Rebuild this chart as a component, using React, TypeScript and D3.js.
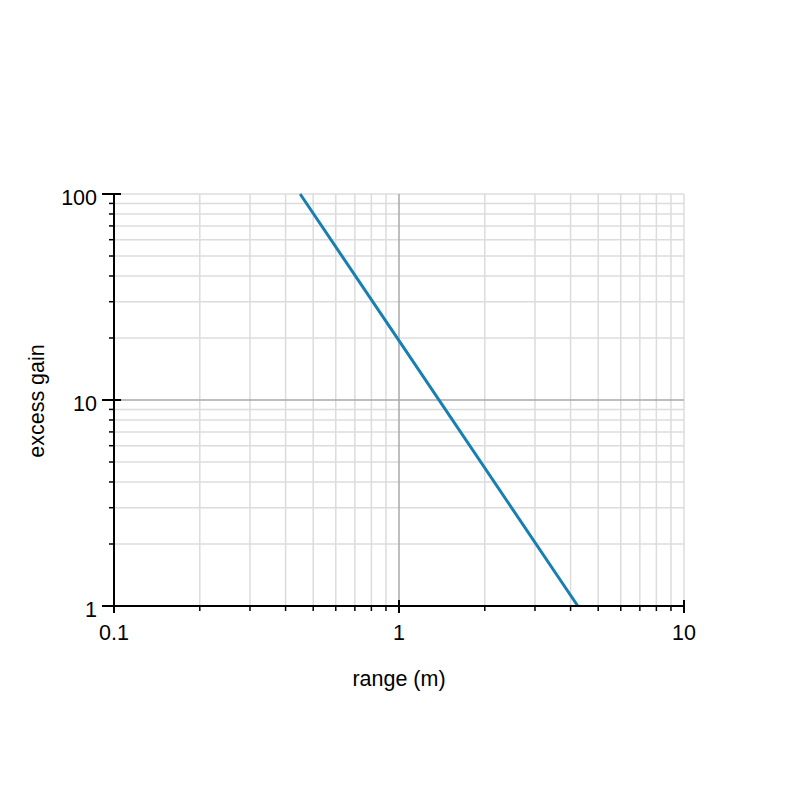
import React from "react";
import * as d3 from "d3";

const seriesX = [0.45, 1, 4.24];
const seriesY = [100, 19.4, 1];
const xTickValues = [0.1, 1, 10];
const xTickLabels = ["0.1", "1", "10"];
const yTickValues = [1, 10, 100];
const yTickLabels = ["1", "10", "100"];
const xLabel = "range (m)";
const yLabel = "excess gain";

const minorTicks = (lo: number, hi: number) => {
  const out: number[] = [];
  for (let d = lo; d < hi; d *= 10) {
    for (let k = 2; k <= 9; k++) out.push(d * k);
  }
  return out;
};

export default function App() {
  const W = 800, H = 800;
  const left = 114, right = 684, top = 194, bottom = 606;
  const x = d3.scaleLog().domain([0.1, 10]).range([left, right]);
  const y = d3.scaleLog().domain([1, 100]).range([bottom, top]);
  const xMinor = minorTicks(0.1, 10);
  const yMinor = minorTicks(1, 100);
  const line = d3.line<number>().x((_, i) => x(seriesX[i])).y((d) => y(d));
  const font = "'Liberation Sans', Arial, Helvetica, sans-serif";
  const fs = 21.5;
  const light = "#dcdcdc";
  const dark = "#a8a8a8";
  return (
    <svg width={W} height={H} style={{ position: "absolute", left: 0, top: 0, background: "#fff" }}>
      <rect width={W} height={H} fill="#fff" />
      {/* grid */}
      {xMinor.map((v) => (
        <line key={"gx" + v} x1={x(v)} x2={x(v)} y1={top} y2={bottom} stroke={light} strokeWidth={1.5} />
      ))}
      {yMinor.map((v) => (
        <line key={"gy" + v} x1={left} x2={right} y1={y(v)} y2={y(v)} stroke={light} strokeWidth={1.5} />
      ))}
      <line x1={x(10)} x2={x(10)} y1={top} y2={bottom} stroke={light} strokeWidth={1.5} />
      <line x1={left} x2={right} y1={y(100)} y2={y(100)} stroke={light} strokeWidth={1.5} />
      <line x1={x(1)} x2={x(1)} y1={top} y2={bottom} stroke={dark} strokeWidth={1.5} />
      <line x1={left} x2={right} y1={y(10)} y2={y(10)} stroke={dark} strokeWidth={1.5} />
      {/* data */}
      <path d={line(seriesY) || ""} fill="none" stroke="#177fb2" strokeWidth={3} />
      {/* axes */}
      <line x1={left} x2={right} y1={bottom} y2={bottom} stroke="#000" strokeWidth={2} />
      <line x1={left} x2={left} y1={top} y2={bottom} stroke="#000" strokeWidth={2} />
      {xMinor.map((v) => (
        <line key={"tx" + v} x1={x(v)} x2={x(v)} y1={bottom} y2={bottom + 5} stroke="#000" strokeWidth={1.5} />
      ))}
      {yMinor.map((v) => (
        <line key={"ty" + v} x1={left - 5} x2={left} y1={y(v)} y2={y(v)} stroke="#000" strokeWidth={1.5} />
      ))}
      {xTickValues.map((v, i) => (
        <g key={"xm" + v}>
          <line x1={x(v)} x2={x(v)} y1={bottom - 6} y2={bottom + 7} stroke="#000" strokeWidth={2} />
          <text x={x(v)} y={640} textAnchor="middle" fontFamily={font} fontSize={fs} fill="#000">
            {xTickLabels[i]}
          </text>
        </g>
      ))}
      {yTickValues.map((v, i) => (
        <g key={"ym" + v}>
          <line x1={left - 12} x2={left + 7} y1={y(v)} y2={y(v)} stroke="#000" strokeWidth={2} />
          <text x={97} y={y(v) + 11} textAnchor="end" fontFamily={font} fontSize={fs} fill="#000">
            {yTickLabels[i]}
          </text>
        </g>
      ))}
      <text x={399} y={686} textAnchor="middle" fontFamily={font} fontSize={fs} fill="#000">
        {xLabel}
      </text>
      <text
        transform={`translate(44,401) rotate(-90)`}
        textAnchor="middle"
        fontFamily={font}
        fontSize={fs}
        fill="#000"
      >
        {yLabel}
      </text>
    </svg>
  );
}
